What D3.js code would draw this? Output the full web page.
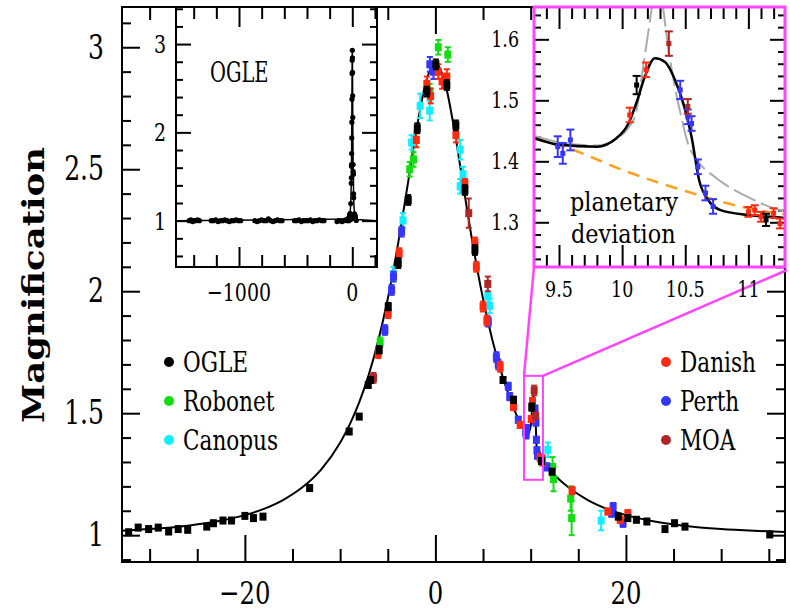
<!DOCTYPE html>
<html>
<head>
<meta charset="utf-8">
<script src="https://cdn.jsdelivr.net/npm/d3@7"></script>
<style>
  body { margin: 0; background: #fff; }
  svg { display: block; }
</style>
</head>
<body>
<svg></svg>
<script>
// ---- data ----
// model light curve (time in days, magnification)
const modelT = [-33, -30, -26, -23, -20, -18, -16, -14, -12, -10, -9, -8, -7, -6, -5, -4, -3, -2, -1, 0,
  1, 2, 3, 4, 5, 6, 7, 8, 9, 9.3, 9.5, 9.8, 9.95, 10.05, 10.12, 10.18, 10.26, 10.34, 10.42, 10.5,
  10.55, 10.61, 10.68, 10.78, 11.0, 11.28, 12, 14, 16, 18, 20, 23, 26, 30, 34, 37];
const modelA = [1.018, 1.025, 1.039, 1.056, 1.082, 1.108, 1.144, 1.195, 1.269, 1.379, 1.453, 1.544, 1.657, 1.797, 1.969, 2.176, 2.414, 2.659, 2.856, 2.933,
  2.856, 2.659, 2.414, 2.176, 1.969, 1.797, 1.657, 1.544, 1.453, 1.438, 1.427, 1.424, 1.437, 1.462, 1.50, 1.539, 1.569, 1.563, 1.533, 1.484,
  1.44, 1.369, 1.337, 1.32, 1.312, 1.307, 1.269, 1.195, 1.144, 1.108, 1.082, 1.056, 1.039, 1.025, 1.017, 1.0125];

// single-lens model (orange dashed) and alternative model (grey) in the zoom
const singleT = [9.3, 9.58, 10.0, 10.52, 11.0, 11.29];
const singleA = [1.437, 1.421, 1.386, 1.35, 1.323, 1.313];
const greyLeftT = [9.3, 9.6, 9.8, 9.95, 10.05, 10.11, 10.17, 10.22, 10.24];
const greyLeftA = [1.442, 1.428, 1.426, 1.436, 1.455, 1.48, 1.56, 1.63, 1.66];
const greyRightT = [10.32, 10.37, 10.415, 10.465, 10.52, 10.6, 10.73, 10.99, 11.25, 11.29];
const greyRightA = [1.66, 1.58, 1.525, 1.476, 1.43, 1.40, 1.375, 1.342, 1.32, 1.318];

// observations: [time, magnification, error]
const ogle = [[-32.2,1.012,.008],[-31.2,1.031,.008],[-30.1,1.025,.008],[-29.1,1.031,.008],[-28.0,1.015,.008],
  [-27.0,1.025,.008],[-26.0,1.022,.008],[-24.0,1.035,.008],[-23.3,1.049,.008],[-22.3,1.06,.008],[-21.4,1.06,.008],
  [-20.0,1.079,.008],[-19.1,1.07,.008],[-18.1,1.076,.01],[-13.2,1.193,.01],[-9.05,1.425,.01],[-8.0,1.486,.01],
  [-7.05,1.616,.012],[-6.8,1.636,.012],[-5.9,1.76,.015],[-4.95,1.937,.015],[-3.9,2.115,.02],[-2.85,2.374,.02],
  [-1.9,2.668,.02],[-0.9,2.818,.02],[0.05,2.93,.02],[1.2,2.845,.02],[2.15,2.68,.02],[3.1,2.415,.02],[4.15,2.169,.02],
  [7.1,1.636,.012],[8.2,1.555,.012],[10.115,1.525,.015],[11.14,1.304,.01],[12.25,1.26,.01],[19.2,1.076,.01],
  [20.2,1.07,.01],[21.1,1.063,.008],[22.2,1.056,.008],[24.1,1.025,.008],[25.1,1.049,.008],[26.2,1.035,.008],[35.1,1.003,.008]];
const danish = [[-6.0,1.746,.02],[-4.95,1.91,.02],[-3.8,2.156,.02],[-2.0,2.62,.03],[-0.9,2.85,.03],[-0.5,2.80,.03],
  [0.3,2.9,.03],[0.7,2.86,.03],[1.2,2.88,.03],[2.15,2.64,.03],[3.1,2.44,.02],[4.15,2.2,.02],[4.3,2.1,.02],
  [5.0,1.937,.02],[5.4,1.88,.02],[6.8,1.69,.02],[8.2,1.527,.015],[8.9,1.452,.012],[10.06,1.476,.012],[10.19,1.55,.012],
  [11.0,1.317,.008],[11.05,1.32,.008],[11.1,1.309,.008],[11.2,1.315,.008],[11.25,1.298,.008],
  [14.35,1.183,.015],[18.1,1.097,.012],[19.4,1.063,.012],[20.2,1.09,.012]];
const perth = [[-5.3,1.841,.02],[-4.6,2.005,.02],[-4.4,2.06,.02],[-3.55,2.244,.02],[-0.58,2.93,.03],[-0.2,2.9,.03],
  [5.55,1.875,.02],[6.4,1.73,.02],[6.6,1.70,.02],[7.65,1.61,.015],[7.8,1.568,.015],[8.7,1.473,.012],
  [9.49,1.424,.017],[9.53,1.413,.017],[9.59,1.435,.017],[10.46,1.517,.015],[10.52,1.473,.012],[10.55,1.462,.012],
  [10.6,1.391,.012],[10.66,1.348,.012],[10.72,1.326,.012],[11.7,1.28,.015],[18.5,1.09,.015],[18.66,1.117,.015],[19.7,1.049,.015]];
const robonet = [[-5.8,1.79,.02],[-2.7,2.5,.03],[-2.3,2.54,.03],[-0.6,2.82,.03],[0.3,3.0,.03],[1.3,2.97,.03],
  [12.3,1.28,.04],[12.4,1.23,.05],[14.2,1.15,.05],[14.3,1.07,.07]];
const canopus = [[-4.4,2.07,.03],[-3.4,2.29,.03],[-2.5,2.61,.03],[-1.6,2.76,.05],[-0.6,2.74,.04],[2.6,2.58,.04],
  [2.6,2.43,.03],[2.9,2.48,.03],[5.5,1.98,.04],[5.7,1.94,.03],[11.8,1.35,.03],[17.4,1.06,.04]];
const moa = [[-6.5,1.645,.02],[3.5,2.32,.06],[5.5,2.03,.03],[10.37,1.593,.02],[10.52,1.49,.012]];

// OGLE baseline seen in the small left panel
const ogleBaseT = [-1440,-1425,-1410,-1395,-1380,-1365,-1350,
  -1245,-1225,-1205,-1185,-1165,-1145,-1125,-1105,-1085,-1065,-1045,-1025,-1005,-985,
  -860,-840,-820,-800,-780,-760,-740,-720,-700,-680,-660,-640,-620,
  -510,-490,-470,-450,-430,-410,-390,-370,-350,-330,-310,-290,-270,-250,
  -135,-120,-105,-90,-75,-60,-45,-30,-20,-10];
const ogleBaseA = [1.0,1.01,0.99,1.0,1.0,1.01,1.0,
  1.0,1.0,1.01,0.99,1.0,1.0,1.01,1.0,0.99,1.0,1.0,1.01,1.0,1.0,
  1.0,0.99,1.0,1.01,1.0,1.0,1.02,1.0,0.99,1.0,1.01,1.0,1.0,
  1.0,1.0,1.01,0.99,1.0,1.0,1.0,1.01,0.99,1.0,1.0,1.01,1.0,1.0,
  0.99,1.0,1.0,0.99,1.0,1.01,1.0,1.0,1.01,1.02];

// axis ticks and labels
const mainXMajor = [-20, 0, 20], mainXLabels = ['\u221220', '0', '20'];
const mainYMajor = [1, 1.5, 2, 2.5, 3], mainYLabels = ['1', '1.5', '2', '2.5', '3'];
const ogleXMajor = [-1000, 0], ogleXLabels = ['\u22121000', '0'];
const ogleYMajor = [1, 2, 3], ogleYLabels = ['1', '2', '3'];
const zoomXMajor = [9.5, 10, 10.5, 11], zoomXLabels = ['9.5', '10', '10.5', '11'];
const zoomYMajor = [1.3, 1.4, 1.5, 1.6], zoomYLabels = ['1.3', '1.4', '1.5', '1.6'];
const zoomT = [9.3, 11.29], zoomA = [1.227, 1.653];

const legendLeft = ['OGLE', 'Robonet', 'Canopus'];
const legendRight = ['Danish', 'Perth', 'MOA'];

// ---- setup ----
const size = {w: 790, h: 613};
const svg = d3.select('svg').attr('width', size.w).attr('height', size.h);
const FONT = 'DejaVu Serif';
const colors = {OGLE: '#000000', Robonet: '#11dd11', Canopus: '#11eeff', Danish: '#ff2a10', Perth: '#3535ff', MOA: '#b02525'};
const seriesData = {OGLE: ogle, Robonet: robonet, Canopus: canopus, Danish: danish, Perth: perth, MOA: moa};
const drawOrder = ['Canopus', 'Robonet', 'Perth', 'Danish', 'MOA', 'OGLE'];

const x = d3.scaleLinear().domain([-32.9, 36.7]).range([122, 785]);
const y = d3.scaleLinear().domain([0.89, 3.165]).range([562, 7]);
const xo = d3.scaleLinear().domain([-1556, 218]).range([176, 377]);
const yo = d3.scaleLinear().domain([0.475, 3.42]).range([267, 7]);
const xi = d3.scaleLinear().domain([9.302, 11.29]).range([534, 785]);
const yi = d3.scaleLinear().domain([1.2267, 1.653]).range([267, 7]);

const modelPts = modelT.map((t, i) => [t, modelA[i]]);

// text squeezed horizontally like the original lettering
function label(g, px, py, str, fs, anchor, sx = 0.76, base = 'auto') {
    return g.append('text')
        .attr('transform', `translate(${px},${py}) scale(${sx},1)`)
        .attr('text-anchor', anchor)
        .attr('dominant-baseline', base)
        .attr('font-family', FONT)
        .attr('font-size', fs)
        .attr('fill', '#000')
        .text(str);
}

// inward ticks on the four sides of a panel
function frameTicks(g, xs, ys, xMajor, xMinor, yMajor, yMinor, sz) {
    const [x0, x1] = xs.range(), [y0, y1] = ys.range();
    const defs = [
        [d3.axisBottom, xs, xMajor, sz.xM, `translate(0,${y0})`], [d3.axisBottom, xs, xMinor, sz.xm, `translate(0,${y0})`],
        [d3.axisTop, xs, xMajor, sz.xM, `translate(0,${y1})`], [d3.axisTop, xs, xMinor, sz.xm, `translate(0,${y1})`],
        [d3.axisLeft, ys, yMajor, sz.yM, `translate(${x0},0)`], [d3.axisLeft, ys, yMinor, sz.ym, `translate(${x0},0)`],
        [d3.axisRight, ys, yMajor, sz.yM, `translate(${x1},0)`], [d3.axisRight, ys, yMinor, sz.ym, `translate(${x1},0)`]
    ];
    defs.forEach(([fn, sc, vals, len, tr]) => {
        g.append('g').attr('transform', tr)
            .call(fn(sc).tickValues(vals).tickSize(-len).tickFormat(''))
            .call(a => a.select('.domain').remove())
            .selectAll('line').attr('stroke', '#000').attr('stroke-width', 2);
    });
}

function minors(a, b, step, majors) {
    return d3.range(Math.round(a / step), Math.round(b / step) + 1)
        .map(k => +(k * step).toFixed(3))
        .filter(v => !majors.some(m => Math.abs(m - v) < 1e-6));
}

function clip(id, xs, ys) {
    svg.append('clipPath').attr('id', id).append('rect')
        .attr('x', xs.range()[0]).attr('y', ys.range()[1])
        .attr('width', xs.range()[1] - xs.range()[0]).attr('height', ys.range()[0] - ys.range()[1]);
}

// error-bar points
function drawPoints(g, xs, ys, data, color, opt) {
    const pg = g.append('g');
    data.forEach(d => {
        const cx = xs(d[0]), cy = ys(d[1]);
        const top = ys(d[1] + d[2]), bot = ys(d[1] - d[2]);
        pg.append('line').attr('x1', cx).attr('x2', cx).attr('y1', top).attr('y2', bot)
            .attr('stroke', color).attr('stroke-width', 2);
        [top, bot].forEach(v => pg.append('line').attr('x1', cx - opt.cap).attr('x2', cx + opt.cap)
            .attr('y1', v).attr('y2', v).attr('stroke', color).attr('stroke-width', 2));
        pg.append('rect').attr('x', cx - opt.w / 2).attr('y', cy - opt.h / 2)
            .attr('width', opt.w).attr('height', opt.h).attr('fill', color);
    });
}

clip('clipMain', x, y);
clip('clipOgle', xo, yo);
clip('clipZoom', xi, yi);

// ---------- MAIN PANEL ----------
const mainG = svg.append('g');
frameTicks(mainG, x, y, mainXMajor, minors(-30, 35, 5, mainXMajor),
    mainYMajor, minors(0.9, 3.1, 0.1, mainYMajor), {xM: 27, xm: 13, yM: 18, ym: 9});

const line = d3.line().curve(d3.curveMonotoneX);
const plotG = mainG.append('g').attr('clip-path', 'url(#clipMain)');
plotG.append('path')
    .attr('d', line.x(d => x(d[0])).y(d => y(d[1]))(modelPts))
    .attr('fill', 'none').attr('stroke', '#000').attr('stroke-width', 2);

drawOrder.forEach(k => drawPoints(plotG, x, y, seriesData[k], colors[k], {w: 7, h: 8, cap: 3}));

mainG.append('rect').attr('x', 122).attr('y', 7).attr('width', 663).attr('height', 555)
    .attr('fill', 'none').attr('stroke', '#000').attr('stroke-width', 2);

mainXMajor.forEach((v, i) => label(mainG, x(v), 604, mainXLabels[i], 32, 'middle'));
mainYMajor.forEach((v, i) => label(mainG, 104, y(v), mainYLabels[i], 33, 'end', 0.76, 'central'));

mainG.append('text')
    .attr('transform', 'translate(44,285) rotate(-90)')
    .attr('text-anchor', 'middle')
    .attr('font-family', FONT).attr('font-size', 29).attr('font-weight', 'bold')
    .attr('textLength', 276).attr('lengthAdjust', 'spacingAndGlyphs')
    .text('Magnification');

// legends
const legG = svg.append('g');
[[legendLeft, 169], [legendRight, 666]].forEach(([names, lx]) => {
    names.forEach((n, i) => {
        const ly = 363 + i * 39;
        legG.append('circle').attr('cx', lx).attr('cy', ly - 1).attr('r', 5).attr('fill', colors[n]);
        label(legG, lx + 14, ly, n, 27, 'start', 0.8, 'central');
    });
});

// zoom box and connectors
const magenta = '#ff44ff';
const boxG = svg.append('g');
boxG.append('rect')
    .attr('x', x(zoomT[0])).attr('y', y(zoomA[1]))
    .attr('width', x(zoomT[1]) - x(zoomT[0])).attr('height', y(zoomA[0]) - y(zoomA[1]))
    .attr('fill', 'none').attr('stroke', magenta).attr('stroke-width', 2);
boxG.append('line').attr('x1', x(zoomT[0])).attr('y1', y(zoomA[1])).attr('x2', xi.range()[0]).attr('y2', yi.range()[0])
    .attr('stroke', magenta).attr('stroke-width', 2.5);
boxG.append('line').attr('x1', x(zoomT[1])).attr('y1', y(zoomA[1])).attr('x2', xi.range()[1] + 2).attr('y2', yi.range()[0] + 3)
    .attr('stroke', magenta).attr('stroke-width', 2.5);

// ---------- OGLE INSET ----------
const ogG = svg.append('g');
ogG.append('rect').attr('x', 176).attr('y', 7).attr('width', 201).attr('height', 260).attr('fill', '#fff');
frameTicks(ogG, xo, yo, ogleXMajor, [-1400, -1200, -800, -600, -400, -200, 200],
    ogleYMajor, minors(0.6, 3.4, 0.2, ogleYMajor), {xM: 20, xm: 12, yM: 15, ym: 7});
const ogPlot = ogG.append('g').attr('clip-path', 'url(#clipOgle)');
const ogCurve = [[-1556, 1.0]].concat(modelPts, [[218, 1.0]]);
ogPlot.append('path')
    .attr('d', d3.line().x(d => xo(d[0])).y(d => yo(d[1]))(ogCurve))
    .attr('fill', 'none').attr('stroke', '#000').attr('stroke-width', 1.5);
ogPlot.selectAll('circle.base')
    .data(ogleBaseT.map((t, i) => [t, ogleBaseA[i]]).concat(ogle))
    .join('circle')
    .attr('cx', d => xo(d[0])).attr('cy', d => yo(d[1]))
    .attr('r', 2.6).attr('fill', '#000');
ogG.append('rect').attr('x', 176).attr('y', 7).attr('width', 201).attr('height', 260)
    .attr('fill', 'none').attr('stroke', '#000').attr('stroke-width', 2);
ogleXMajor.forEach((v, i) => label(ogG, xo(v), 301, ogleXLabels[i], 25, 'middle'));
ogleYMajor.forEach((v, i) => label(ogG, 166, yo(v), ogleYLabels[i], 25, 'end', 0.76, 'central'));
label(ogG, 210, 82, 'OGLE', 27, 'start', 0.72);

// ---------- ZOOM INSET ----------
const zG = svg.append('g');
zG.append('rect').attr('x', 534).attr('y', 7).attr('width', 251).attr('height', 260).attr('fill', '#fff');
frameTicks(zG, xi, yi, zoomXMajor, minors(9.4, 11.2, 0.1, zoomXMajor),
    zoomYMajor, minors(1.24, 1.64, 0.02, zoomYMajor), {xM: 22, xm: 12, yM: 15, ym: 7});
const zPlot = zG.append('g').attr('clip-path', 'url(#clipZoom)');
const zLine = d3.line().x(d => xi(d[0])).y(d => yi(d[1])).curve(d3.curveMonotoneX);

[[greyLeftT, greyLeftA], [greyRightT, greyRightA]].forEach(([ts, as]) => {
    zPlot.append('path')
        .attr('d', zLine(ts.map((t, i) => [t, as[i]])))
        .attr('fill', 'none').attr('stroke', '#aaaaaa').attr('stroke-width', 2)
        .attr('stroke-dasharray', '24,6');
});
zPlot.append('path')
    .attr('d', zLine(singleT.map((t, i) => [t, singleA[i]])))
    .attr('fill', 'none').attr('stroke', '#ffa020').attr('stroke-width', 2.5)
    .attr('stroke-dasharray', '12,8');
zPlot.append('path')
    .attr('d', zLine(modelPts.filter(d => d[0] >= 9 && d[0] <= 12)))
    .attr('fill', 'none').attr('stroke', '#000').attr('stroke-width', 2.5);

drawOrder.forEach(k => {
    const inWin = seriesData[k].filter(d => d[0] >= zoomT[0] && d[0] <= zoomT[1]);
    drawPoints(zPlot, xi, yi, inWin, colors[k], {w: 5, h: 5, cap: 4});
});

zG.append('rect').attr('x', 534).attr('y', 7).attr('width', 251).attr('height', 260)
    .attr('fill', 'none').attr('stroke', magenta).attr('stroke-width', 3);
zoomXMajor.forEach((v, i) => label(zG, xi(v), 297, zoomXLabels[i], 23, 'middle'));
zoomYMajor.forEach((v, i) => label(zG, 519, yi(v), zoomYLabels[i], 23, 'end', 0.76, 'central'));
label(zG, 570, 211, 'planetary', 26, 'start', 0.86);
label(zG, 571, 243, 'deviation', 26, 'start', 0.86);
</script>
</body>
</html>
